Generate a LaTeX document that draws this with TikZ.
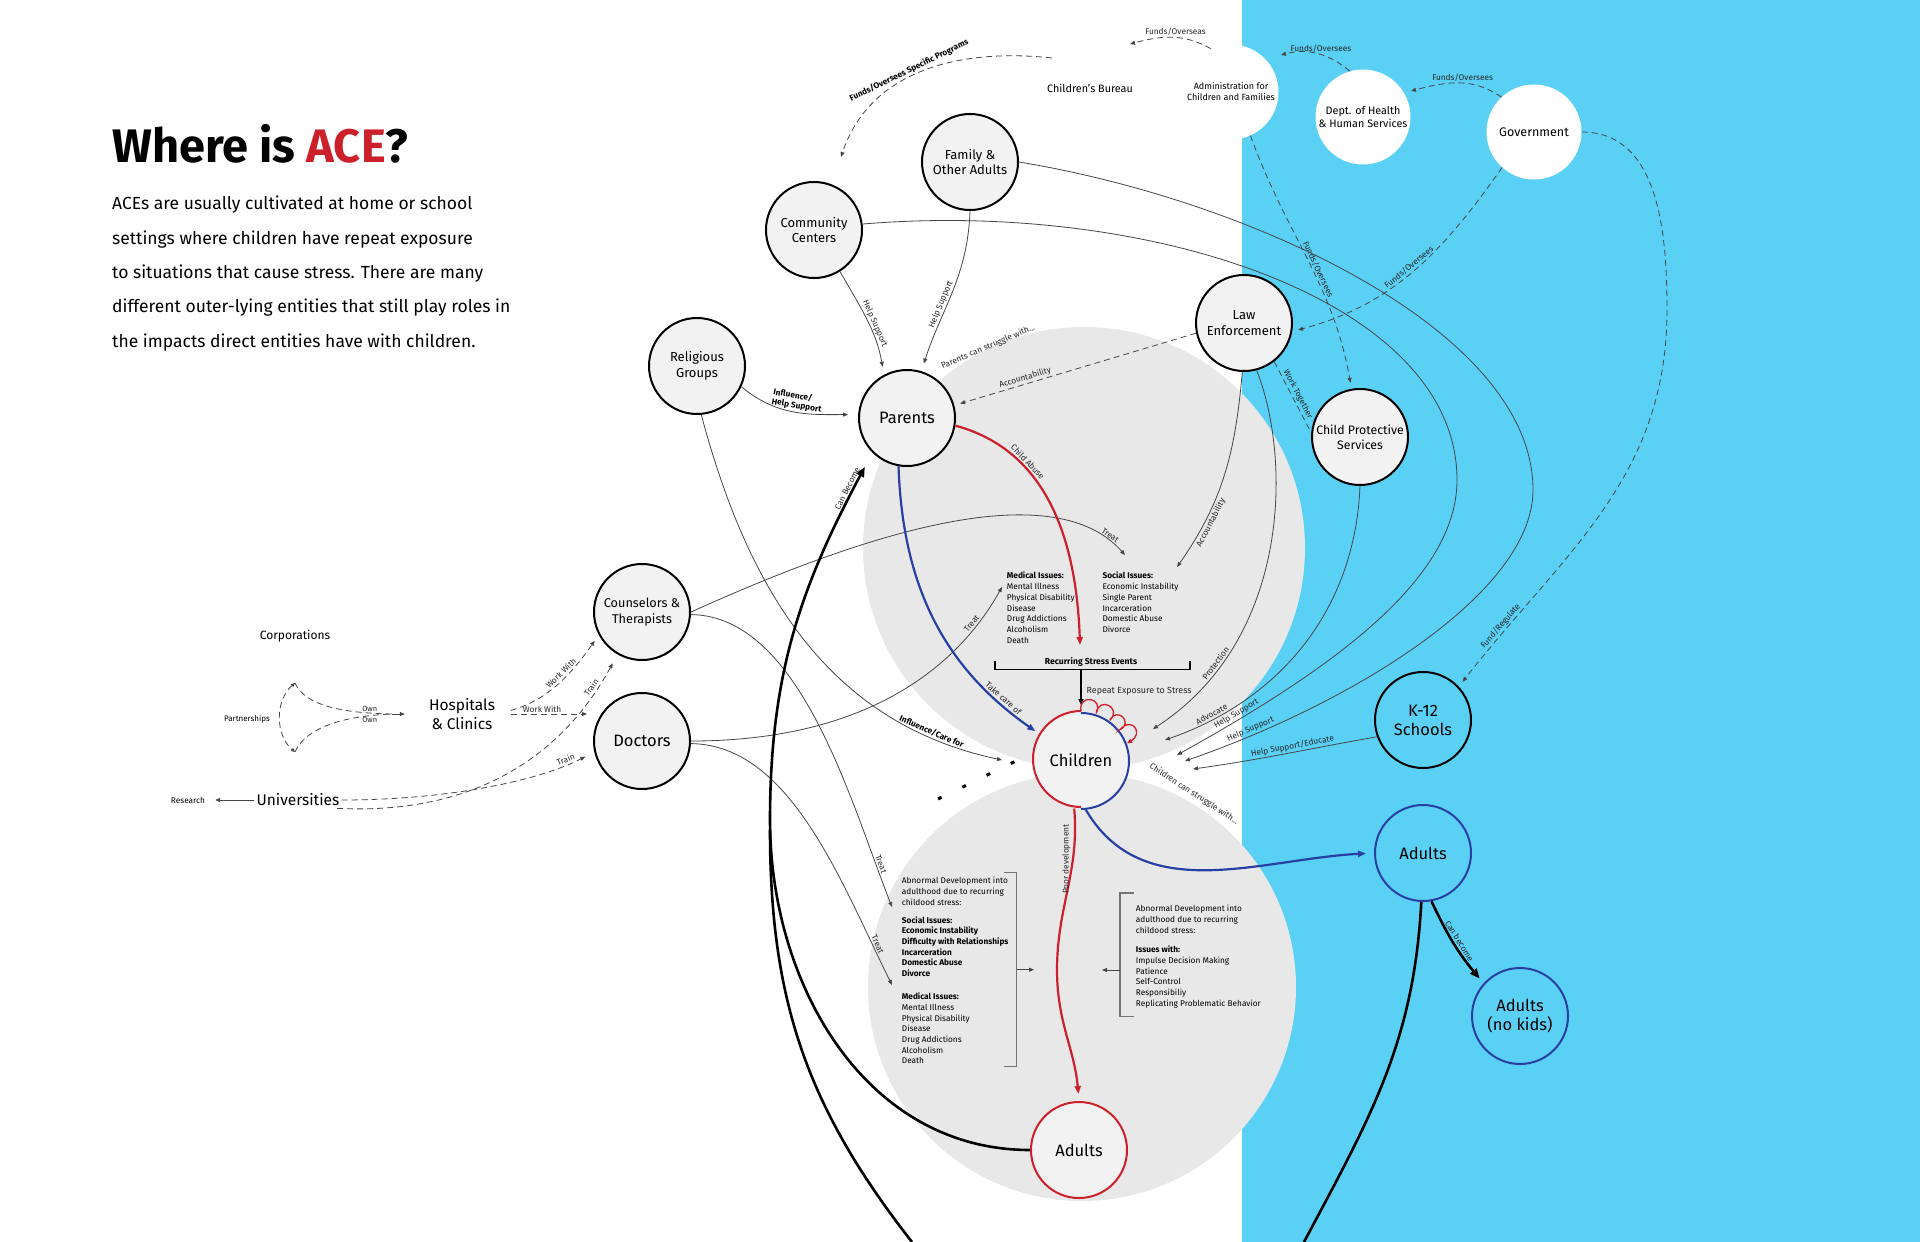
\documentclass[tikz,border=0pt]{standalone}
\usepackage{fontspec}
\setmainfont{Fira Sans}
\usepackage{tikz}
\usetikzlibrary{
    arrows.meta,
    positioning,
    calc
}
\usepackage{xcolor}
\definecolor{skyblue}{RGB}{90,208,245}
\definecolor{ringgray}{RGB}{232,232,232}
\definecolor{nodegray}{RGB}{242,242,242}
\definecolor{acered}{RGB}{204,32,44}
\definecolor{aceblue}{RGB}{40,64,164}
\definecolor{linegray}{RGB}{70,70,70}
\tikzstyle{entity} = [
    circle,
    draw=black,
    line width=2pt,
    fill=nodegray,
    minimum size=96pt,
    inner sep=0pt,
    align=center,
    font=\fontsize{13}{15.5}\selectfont
]
\tikzstyle{mainentity} = [
    entity,
    font=\fontsize{16.5}{19}\selectfont
]
\tikzstyle{agency} = [
    circle,
    fill=white,
    minimum size=95pt,
    inner sep=0pt,
    align=center
]
\tikzstyle{placename} = [
    inner sep=2pt,
    align=center,
    font=\fontsize{15.5}{19}\selectfont
]
\tikzstyle{link} = [
    -{Triangle[length=5pt,width=4pt]},
    line width=0.8pt,
    draw=linegray
]
\tikzstyle{dlink} = [
    link,
    dash pattern=on 6pt off 4pt
]
\tikzstyle{lbl} = [
    font=\fontsize{8.3}{10}\selectfont,
    inner sep=1.5pt,
    text=black!85
]
\tikzstyle{blbl} = [
    lbl,
    font=\fontsize{8.3}{9.5}\selectfont\bfseries,
    text=black
]
\tikzstyle{redpath} = [
    -{Triangle[length=8pt,width=6pt]},
    line width=2.2pt,
    draw=acered
]
\tikzstyle{bluepath} = [
    -{Triangle[length=8pt,width=6pt]},
    line width=2.2pt,
    draw=aceblue
]
\tikzstyle{becomes} = [
    -{Triangle[length=10pt,width=8pt]},
    line width=2.6pt,
    draw=black
]
\tikzstyle{issue} = [
    anchor=north west,
    align=left,
    inner sep=0pt,
    font=\fontsize{8.3}{10.7}\selectfont
]
\tikzstyle{issuebracket} = [
    line width=1.1pt,
    draw=black!55
]

\begin{document}
\begin{tikzpicture}[x=1pt, y=1pt]
    % Page and zones
    \useasboundingbox (0,0) rectangle (1920,-1242);
    \fill[white] (0,0) rectangle (1920,-1242);
    \fill[skyblue] (1242,0) rectangle (1920,-1242);
    \fill[ringgray] (1084,-548) circle (221);
    \fill[ringgray] (1082,-987) circle (214);

    % Title and intro
    \node[anchor=base west, inner sep=0pt, font=\fontsize{47}{50}\selectfont\bfseries] (title) at (112,-162) {Where is \textcolor{acered}{ACE}?};
    \node[anchor=north west, inner sep=0pt, align=left, font=\fontsize{17.5}{34.3}\selectfont] (intro) at (112,-196) {ACEs are usually cultivated at home or school\\settings where children have repeat exposure\\to situations that cause stress. There are many\\different outer-lying entities that still play roles in\\the impacts direct entities have with children.};

    % Government side
    \node[agency, font=\fontsize{9}{11}\selectfont] (admin) at (1231,-92) {Administration for\\Children and Families};
    \node[agency, font=\fontsize{10.8}{13}\selectfont] (dept) at (1363,-117) {Dept. of Health\\\& Human Services};
    \node[agency, font=\fontsize{12.5}{15}\selectfont] (gov) at (1534,-132) {Government};
    \node[placename, font=\fontsize{10.8}{13}\selectfont] (bureau) at (1090,-88) {Children's Bureau};

    % Entities
    \node[entity] (family) at (970,-162) {Family \&\\Other Adults};
    \node[entity] (community) at (814,-230) {Community\\Centers};
    \node[entity] (religious) at (697,-366) {Religious\\Groups};
    \node[mainentity] (parents) at (907,-418) {Parents};
    \node[entity] (law) at (1244,-323) {Law\\Enforcement};
    \node[entity, font=\fontsize{12.3}{15}\selectfont] (cps) at (1360,-437) {Child Protective\\Services};
    \node[entity, font=\fontsize{12.7}{15.5}\selectfont] (counselors) at (642,-612) {Counselors \&\\Therapists};
    \node[mainentity] (doctors) at (642,-741) {Doctors};
    \node[mainentity, draw=none] (children) at (1081,-760) {Children};
    \node[mainentity, draw=acered] (adultsR) at (1079,-1150) {Adults};
    \node[mainentity, fill=none] (k12) at (1423,-720) {K-12\\Schools};
    \node[mainentity, fill=none, draw=aceblue] (adultsB) at (1423,-853) {Adults};
    \node[mainentity, fill=none, draw=aceblue] (adultsNK) at (1520,-1016) {Adults\\(no kids)};
    \draw[acered, line width=2pt] (children.north) arc (90:270:48);
    \draw[aceblue, line width=2pt] (children.south) arc (-90:90:48);

    % Outer left entities
    \node[placename, font=\fontsize{12}{14}\selectfont] (corporations) at (295,-636) {Corporations};
    \node[placename, font=\fontsize{8}{10}\selectfont] (partnerships) at (247,-719) {Partnerships};
    \node[placename, font=\fontsize{15.5}{19}\selectfont] (hospitals) at (462,-714) {Hospitals\\\& Clinics};
    \node[placename] (universities) at (298,-800) {Universities};
    \node[placename, font=\fontsize{8.3}{10}\selectfont] (research) at (188,-800) {Research};

    % Issue lists
    \node[issue] (medicalUp) at (1006.7,-572) {\textbf{Medical Issues:}\\Mental Illness\\Physical Disability\\Disease\\Drug Addictions\\Alcoholism\\Death};
    \node[issue] (socialUp) at (1102.3,-572) {\textbf{Social Issues:}\\Economic Instability\\Single Parent\\Incarceration\\Domestic Abuse\\Divorce};
    \node[issue] (adultIssuesL) at (901.7,-877) {Abnormal Development into\\adulthood due to recurring\\childood stress:\\[7.3pt]\textbf{Social Issues:}\\\textbf{Economic Instability}\\\textbf{Difficulty with Relationships}\\\textbf{Incarceration}\\\textbf{Domestic Abuse}\\\textbf{Divorce}\\[12.5pt]\textbf{Medical Issues:}\\Mental Illness\\Physical Disability\\Disease\\Drug Addictions\\Alcoholism\\Death};
    \node[issue] (adultIssuesR) at (1135.7,-905.3) {Abnormal Development into\\adulthood due to recurring\\childood stress:\\[8.6pt]\textbf{Issues with:}\\Impulse Decision Making\\Patience\\Self-Control\\Responsibiliy\\Replicating Problematic Behavior};
    \node[blbl, font=\fontsize{8.6}{10}\selectfont\bfseries] (recurring) at (1091,-662) {Recurring Stress Events};
    \node[lbl, anchor=west, font=\fontsize{8.9}{10}\selectfont] (repeat) at (1085,-691) {Repeat Exposure to Stress};
    \node[lbl, rotate=23] (parentsStruggle) at (988,-347) {Parents can struggle with...};
    \node[lbl, rotate=-33] (childrenStruggle) at (1194,-794) {Children can struggle with...};

    % Free ends
    \coordinate (bureauIn) at (1130,-44);
    \coordinate (adminIn) at (1281,-55);
    \coordinate (deptIn) at (1411,-91);
    \coordinate (bureauOut) at (1052,-58);
    \coordinate (communityIn) at (841,-157);
    \coordinate (socialIn) at (1177,-567);
    \coordinate (protIn) at (1153,-729);
    \coordinate (advIn) at (1165,-740);
    \coordinate (helpInA) at (1177,-755);
    \coordinate (helpInB) at (1185,-761);
    \coordinate (eduIn) at (1193,-769);
    \coordinate (careIn) at (1002,-760);
    \coordinate (stressIn) at (1080,-645);
    \coordinate (stressBar) at (1081,-669.3);
    \coordinate (socialIn2) at (1125,-555);
    \coordinate (medIn) at (1002,-587);
    \coordinate (abnIn1) at (892,-907);
    \coordinate (abnIn2) at (892,-985);
    \coordinate (bracketL) at (1016.7,-969.7);
    \coordinate (devLeft) at (1034,-969.7);
    \coordinate (bracketR) at (1120,-970);
    \coordinate (devRight) at (1102,-970);
    \coordinate (loopL) at (912,-1242);
    \coordinate (loopR) at (1304,-1242);
    \coordinate (partTop) at (295,-683);
    \coordinate (partBot) at (295,-752);
    \coordinate (partJoin) at (392,-714);
    \coordinate (docWork) at (587,-714);

    % Funding lines
    \draw[dlink] (admin.115) to[out=150,in=15] node[lbl, above, pos=0.45] {Funds/Overseas} (bureauIn);
    \draw[dlink] (dept.106) to[out=140,in=15] node[lbl, above, pos=0.45] {Funds/Oversees} (adminIn);
    \draw[dlink] (gov.133) to[out=145,in=15] node[lbl, above, pos=0.45] {Funds/Oversees} (deptIn);
    \draw[dlink] (bureauOut) .. controls (960,-48) and (870,-70) .. (communityIn) node[blbl, sloped, above, pos=0.55] {Funds/Oversees Specific Programs};
    \draw[dlink, shorten >=6pt] (admin.-66) to[out=-70,in=100] node[lbl, sloped, above, pos=0.55] {Funds/Oversees} (cps.100);
    \draw[dlink, shorten >=6pt] (gov.-132) to[out=235,in=15] node[lbl, sloped, above, pos=0.5] {Funds/Oversees} (law.-10);
    \draw[dlink, shorten >=6pt] (gov.east) to[out=0,in=90] (1667,-310) to[out=-90,in=52] node[lbl, sloped, above, pos=0.85] {Fund/Regulate} (k12.43);
    \draw[dlink, -] (law.-52) -- node[lbl, sloped, above] {Work Together} (cps.175);
    \draw[dlink, shorten >=6pt] (law.192) -- node[lbl, sloped, above, pos=0.7] {Accountability} (parents.15);

    % Support lines
    \draw[link] (law.-92) to[out=-95,in=55] node[lbl, sloped, below, pos=0.75] {Accountability} (socialIn);
    \draw[link] (law.-75) .. controls (1292,-460) and (1290,-640) .. (protIn) node[lbl, sloped, above, pos=0.8] {Protection};
    \draw[link] (cps.south) .. controls (1355,-610) and (1280,-700) .. (advIn) node[lbl, sloped, above, pos=0.85] {Advocate};
    \draw[link] (community.7) .. controls (1150,-200) and (1457,-300) .. (1457,-480) .. controls (1457,-580) and (1330,-670) .. (helpInA) node[lbl, sloped, above, pos=0.86] {Help Support};
    \draw[link] (family.east) .. controls (1250,-200) and (1533,-330) .. (1533,-490) .. controls (1533,-590) and (1360,-700) .. (helpInB) node[lbl, sloped, above, pos=0.87] {Help Support};
    \draw[link] (k12.200) to[out=190,in=8] node[lbl, sloped, above, pos=0.45] {Help Support/Educate} (eduIn);
    \draw[link, shorten >=8pt] (community.-58) to[out=-60,in=100] node[lbl, sloped, above, pos=0.55] {Help Support} (parents.118);
    \draw[link, shorten >=8pt] (family.-90) to[out=-92,in=72] node[lbl, sloped, above, pos=0.6] {Help Support} (parents.73);
    \draw[link, shorten >=10pt] (religious.-25) to[out=-40,in=180] node[blbl, sloped, above, pos=0.5, align=left] {Influence/\\Help Support} (parents.176);
    \draw[link] (religious.-85) to[out=-75,in=168] node[blbl, sloped, above, pos=0.85] {Influence/Care for} (careIn);

    % Treatment lines
    \draw[link] (counselors.east) .. controls (850,-540) and (1050,-470) .. (socialIn2) node[lbl, sloped, above, pos=0.93] {Treat};
    \draw[link] (doctors.east) .. controls (850,-741) and (950,-680) .. (medIn) node[lbl, sloped, above, pos=0.85] {Treat};
    \draw[link] (counselors.-3) .. controls (800,-616) and (850,-800) .. (abnIn1) node[lbl, sloped, above, pos=0.88] {Treat};
    \draw[link] (doctors.-3) .. controls (790,-745) and (840,-880) .. (abnIn2) node[lbl, sloped, above, pos=0.88] {Treat};

    % Left side
    \draw[dlink, {Triangle[length=4pt,width=3.5pt]}-{Triangle[length=4pt,width=3.5pt]}] (partTop) .. controls (275,-700) and (275,-735) .. (partBot);
    \draw[dlink, -] (partTop) .. controls (305,-705) and (340,-713) .. (partJoin) node[lbl, above, pos=0.85, font=\fontsize{7.5}{9}\selectfont] {Own};
    \draw[dlink, -] (partBot) .. controls (305,-729) and (340,-716) .. (partJoin) node[lbl, below, pos=0.85, font=\fontsize{7.5}{9}\selectfont] {Own};
    \draw[link, shorten >=22pt] (partJoin) -- (hospitals.west);
    \draw[dlink, shorten <=14pt, shorten >=7pt] (hospitals.east) to[out=15,in=-125] node[lbl, sloped, above, pos=0.6] {Work With} (counselors.208);
    \draw[dlink, shorten <=14pt] (hospitals.east) -- node[lbl, above, pos=0.5] {Work With} (docWork);
    \draw[link, shorten >=8pt] (universities.west) -- (research.east);
    \draw[dlink, shorten >=10pt] (universities.-12) .. controls (470,-815) and (560,-760) .. (counselors.240) node[lbl, sloped, above, pos=0.88] {Train};
    \draw[dlink, shorten >=10pt] (universities.east) .. controls (450,-800) and (540,-780) .. (doctors.193) node[lbl, sloped, above, pos=0.85] {Train};

    % Main cycle
    \draw[redpath] (parents.-9) to[out=-15,in=92] node[lbl, sloped, above, pos=0.3] {Child Abuse} (stressIn);
    \draw[bluepath, shorten >=5pt] (parents.-100) to[out=-88,in=145] node[lbl, sloped, above, pos=0.85] {Take care of} (children.148);
    \draw[line width=1.6pt] (995,-660.7) -- (995,-669.3) -- (1190,-669.3) -- (1190,-660.7);
    \draw[-{Triangle[length=6pt,width=5pt]}, line width=1.6pt, shorten >=6pt] (stressBar) -- (children.north);
    \draw[-{Triangle[length=5pt,width=4.5pt]}, acered, line width=1.3pt] (children.90) to[out=100,in=62,looseness=3] (children.72) to[out=82,in=44,looseness=3] (children.54) to[out=64,in=26,looseness=3] (children.38) to[out=48,in=30,looseness=3.2] (children.20);
    \draw[line width=3pt, dash pattern=on 4pt off 23pt] (938,-799) -- (1020,-759);
    \draw[bluepath, shorten >=8pt] (children.-85) to[out=-60,in=183] (adultsB.west);
    \draw[redpath, shorten >=7pt] (children.-98) to[out=-85,in=90] node[lbl, pos=0.3, rotate=90, anchor=south] {Poor development} (1057,-970) to[out=-90,in=95] (adultsR.north);
    \draw[issuebracket] (1004,-872.7) -| (1016.7,-1066.7) -- (1004,-1066.7);
    \draw[link] (bracketL) -- (devLeft);
    \draw[issuebracket] (1134,-893) -| (1120,-1016.7) -- (1134,-1016.7);
    \draw[link] (bracketR) -- (devRight);

    % Becoming parents
    \draw[becomes, shorten >=16pt] (adultsR.west) to[out=180,in=-90] (770,-820) to[out=90,in=-118] node[lbl, sloped, above, pos=0.9] {Can Become} (parents.-135);
    \draw[line width=2.6pt] (loopL) to[out=128,in=-90] (770,-830);
    \draw[line width=2.6pt] (adultsB.-92) to[out=-93,in=62] (loopR);
    \draw[becomes, shorten >=6pt] (adultsB.-80) to[out=-65,in=130] node[lbl, sloped, above, pos=0.5] {Can become} (adultsNK.138);
\end{tikzpicture}
\end{document}
